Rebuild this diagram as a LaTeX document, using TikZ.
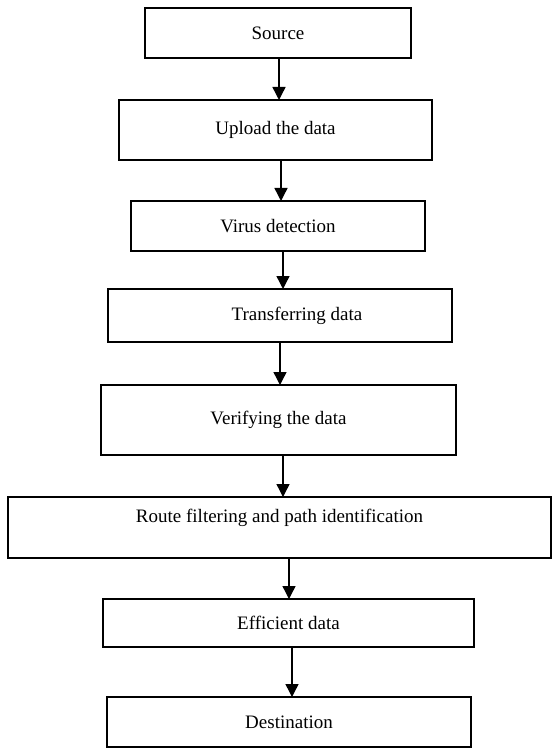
\documentclass[tikz,border=0pt]{standalone}
\usepackage{fontspec}
\setmainfont{Liberation Serif}
\usepackage{tikz}
\usetikzlibrary{arrows.meta,positioning,calc}

\begin{document}
\begin{tikzpicture}[
  x=1pt, y=-1pt,
  >={Triangle[length=13pt,width=13pt]},
  every node/.style={font=\fontsize{19}{22}\selectfont},
  stepbox/.style={
    rectangle, draw=black, line width=1.4pt,
    inner sep=0pt, outer sep=0pt,
    align=center
  },
  flowarrow/.style={->, draw=black, line width=1.4pt}
]
\useasboundingbox (0,0) rectangle (552,751);

% Boxes, top to bottom
\node[stepbox, minimum width=266pt, minimum height=50pt] (source) at (278,33) {Source};
\node[stepbox, minimum width=313pt, minimum height=60pt] (upload) at (275.5,130) {Upload the data};
\node[stepbox, minimum width=294pt, minimum height=50pt] (virus) at (278,226) {Virus detection};
\node[stepbox, minimum width=344pt, minimum height=53pt] (transfer) at (280,315.5) {\hspace*{34pt}Transferring data};
\node[stepbox, minimum width=355pt, minimum height=70pt] (verify) at (278.5,420) {Verifying the data};
\node[stepbox, minimum width=543pt, minimum height=61pt, text depth=24pt] (route) at (279.5,527.5) {Route filtering and path identification};
\node[stepbox, minimum width=371pt, minimum height=48pt] (efficient) at (288.5,623) {Efficient data};
\node[stepbox, minimum width=364pt, minimum height=50pt] (dest) at (289,722) {Destination};

% Arrows between steps
\draw[flowarrow] ([xshift=1pt]source.south) -- ([xshift=1pt]source.south |- upload.north);
\draw[flowarrow] ([xshift=5.5pt]upload.south) -- ([xshift=5.5pt]upload.south |- virus.north);
\draw[flowarrow] ([xshift=5pt]virus.south) -- ([xshift=5pt]virus.south |- transfer.north);
\draw[flowarrow] (transfer.south) -- (transfer.south |- verify.north);
\draw[flowarrow] ([xshift=4.5pt]verify.south) -- ([xshift=4.5pt]verify.south |- route.north);
\draw[flowarrow] ([xshift=9.5pt]route.south) -- ([xshift=9.5pt]route.south |- efficient.north);
\draw[flowarrow] ([xshift=3.5pt]efficient.south) -- ([xshift=3.5pt]efficient.south |- dest.north);

\end{tikzpicture}
\end{document}
